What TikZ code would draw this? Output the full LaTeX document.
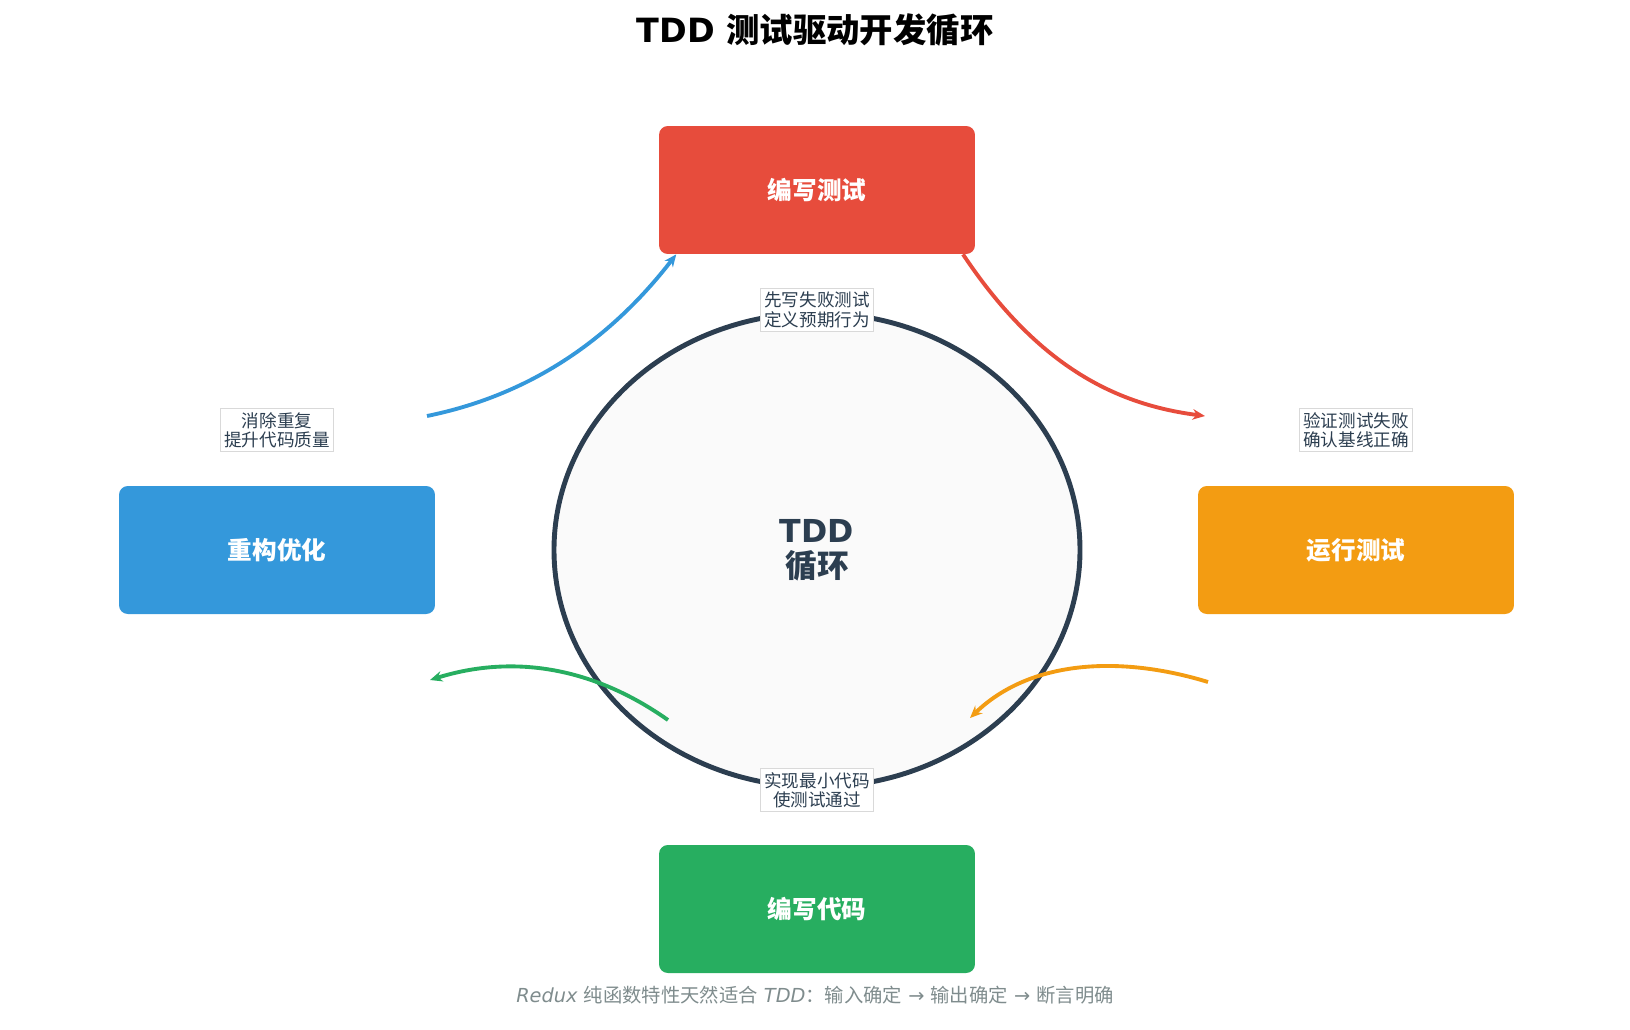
\documentclass[tikz,border=0pt]{standalone}
\usepackage{fontspec}
\setmainfont{DejaVu Sans}
\newfontfamily\cjk{Noto Sans CJK SC}
\usetikzlibrary{positioning,arrows.meta}
\definecolor{tddred}{HTML}{E74C3C}
\definecolor{tddblue}{HTML}{3498DB}
\definecolor{tddorange}{HTML}{F39C12}
\definecolor{tddgreen}{HTML}{27AE60}
\definecolor{tdddark}{HTML}{2C3E50}
\definecolor{tddgray}{HTML}{7F8C8D}
\tikzset{
  stage/.style={rectangle, rounded corners=5pt, minimum width=6.32cm, minimum height=2.56cm,
    text=white, font=\cjk\bfseries\fontsize{14}{16}\selectfont},
  note/.style={rectangle, draw=black!15, fill=white, line width=0.6pt, inner sep=2pt,
    align=center, text=tdddark, font=\cjk\fontsize{10}{11}\selectfont},
  flow/.style={line width=2.2pt, -{Stealth[length=7pt,width=6pt]}}
}
\begin{document}
\begin{tikzpicture}[x=0.02cm,y=-0.02cm]
    \useasboundingbox (0,0) rectangle (1630,1029);
    \node[font=\bfseries\fontsize{19}{22}\selectfont] (title) at (815,30) {TDD {\cjk 测试驱动开发循环}};
    % central circle
    \draw[tdddark, fill=black!2!white, line width=2.8pt] (817,550) ellipse [x radius=263, y radius=237];
    \node[align=center, text=tdddark, font=\bfseries\fontsize{18}{20}\selectfont] (center) at (817,550) {TDD\\{\cjk 循环}};
    % stages
    \node[stage, fill=tddred] (write) at (817,190) {编写测试};
    \node[stage, fill=tddorange] (run) at (1356,550) {运行测试};
    \node[stage, fill=tddgreen] (code) at (817,909) {编写代码};
    \node[stage, fill=tddblue] (refactor) at (277,550) {重构优化};
    % notes
    \node[note] (n1) at (817,310) {先写失败测试\\定义预期行为};
    \node[note] (n2) at (1356,430) {验证测试失败\\确认基线正确};
    \node[note] (n3) at (817,790) {实现最小代码\\使测试通过};
    \node[note] (n4) at (277,430) {消除重复\\提升代码质量};
    % arrow ends
    \coordinate (a1) at (1205,416);
    \coordinate (a2s) at (1208,682);
    \coordinate (a2) at (970,718);
    \coordinate (a3s) at (668,720);
    \coordinate (a3) at (430,680);
    \coordinate (a4s) at (427,416);
    \draw[flow, tddred] ([xshift=-7]write.south east) .. controls (1040,370) and (1120,405) .. (a1);
    \draw[flow, tddorange] (a2s) .. controls (1120,655) and (1030,660) .. (a2);
    \draw[flow, tddgreen] (a3s) .. controls (590,665) and (510,655) .. (a3);
    \draw[flow, tddblue] (a4s) .. controls (530,395) and (610,340) .. ([xshift=10]write.south west);
    \node[text=tddgray, font=\fontsize{11}{13}\selectfont] (foot) at (815,995)
      {\textit{Redux} {\cjk 纯函数特性天然适合} \textit{TDD}{\cjk ：输入确定} → {\cjk 输出确定} → {\cjk 断言明确}};
\end{tikzpicture}
\end{document}
